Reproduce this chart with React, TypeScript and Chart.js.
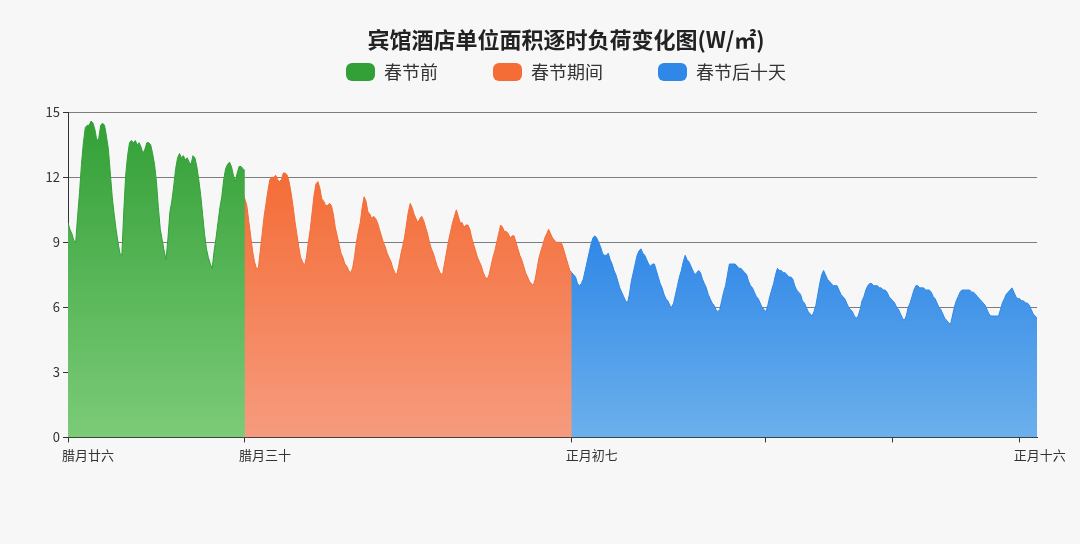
import { useEffect, useRef } from 'react';
import Chart from 'chart.js/auto';

// 逐时负荷 (W/㎡), one value per hour
const SERIES_NAMES = ['春节前', '春节期间', '春节后十天'];

const PRE_START = 0;
const PRE_LOAD = [
  9.9, 9.6, 9.4, 9.1, 9.0, 10.2, 11.3, 12.6, 13.6, 14.3, 14.4, 14.4, 14.6, 14.5, 14.2, 13.7, 13.8, 14.4, 14.5, 14.4, 13.9, 13.3, 12.2, 11.1,
  10.3, 9.6, 9.0, 8.5, 8.4, 10.4, 12.1, 13.0, 13.6, 13.7, 13.6, 13.7, 13.5, 13.6, 13.4, 13.1, 13.3, 13.6, 13.6, 13.5, 13.1, 12.6, 11.8, 10.6,
  9.6, 9.1, 8.6, 8.2, 9.2, 10.4, 10.9, 11.6, 12.4, 12.9, 13.1, 12.9, 13.0, 12.8, 12.9, 12.7, 12.6, 13.0, 12.9, 12.5, 11.9, 11.2, 10.3, 9.4,
  8.7, 8.3, 8.0, 7.8, 8.6, 9.2, 9.9, 10.6, 11.1, 11.9, 12.4, 12.6, 12.7, 12.5, 12.1, 11.8, 12.2, 12.5, 12.5, 12.4, 12.3,
];

// starts one hour under the end of the previous series so the two areas meet without a seam
const DURING_START = 91;
const DURING_LOAD = [
  11.3,
  11.0, 10.7, 10.0, 9.3, 8.6, 8.1, 7.8, 7.8, 8.6, 9.4, 10.2, 10.8, 11.4, 11.9, 12.0, 12.0, 12.1, 11.9, 11.8, 11.9, 12.2, 12.2, 12.1, 11.8,
  11.3, 10.7, 10.0, 9.4, 8.8, 8.3, 8.1, 7.9, 8.3, 9.0, 9.6, 10.4, 11.2, 11.7, 11.8, 11.5, 11.0, 10.9, 10.7, 10.7, 10.8, 10.7, 10.3, 9.7,
  9.3, 8.9, 8.5, 8.3, 8.0, 7.9, 7.7, 7.6, 7.8, 8.3, 9.0, 9.5, 9.9, 10.6, 11.1, 10.9, 10.4, 10.3, 10.1, 10.2, 10.1, 9.9, 9.6, 9.3,
  9.0, 8.8, 8.5, 8.3, 8.1, 7.8, 7.6, 7.5, 7.9, 8.4, 8.8, 9.2, 9.8, 10.4, 10.8, 10.6, 10.3, 10.1, 9.9, 10.1, 10.2, 10.0, 9.7, 9.4,
  9.0, 8.7, 8.5, 8.2, 7.9, 7.7, 7.5, 7.6, 8.1, 8.6, 9.1, 9.5, 9.9, 10.2, 10.5, 10.2, 9.9, 9.9, 9.7, 9.8, 9.8, 9.6, 9.2, 8.9,
  8.6, 8.3, 8.1, 7.9, 7.6, 7.4, 7.3, 7.5, 7.9, 8.3, 8.6, 9.0, 9.4, 9.8, 9.7, 9.5, 9.5, 9.4, 9.2, 9.3, 9.3, 9.0, 8.7, 8.4,
  8.2, 7.9, 7.6, 7.4, 7.2, 7.1, 7.0, 7.3, 7.8, 8.3, 8.6, 8.9, 9.2, 9.4, 9.6, 9.4, 9.2, 9.1, 9.0, 9.0, 9.0, 8.9, 8.6, 8.3,
  8.0, 7.7, 7.6,
];

const AFTER_START = 261;
const AFTER_LOAD = [
  7.7,
  7.6, 7.5, 7.4, 7.1, 7.0, 7.1, 7.3, 7.7, 8.1, 8.5, 8.9, 9.2, 9.3, 9.2, 9.0, 8.8, 8.5, 8.4, 8.4, 8.5, 8.2, 8.0, 7.7, 7.5,
  7.2, 6.9, 6.7, 6.5, 6.3, 6.2, 6.6, 7.2, 7.6, 8.0, 8.4, 8.6, 8.7, 8.5, 8.4, 8.2, 8.0, 7.9, 8.0, 8.0, 7.7, 7.4, 7.1, 6.9,
  6.6, 6.4, 6.3, 6.1, 6.0, 6.2, 6.6, 7.0, 7.4, 7.7, 8.1, 8.4, 8.2, 8.1, 7.9, 7.7, 7.5, 7.6, 7.7, 7.6, 7.3, 7.1, 6.9, 6.6,
  6.4, 6.2, 6.1, 5.9, 5.8, 5.9, 6.3, 6.7, 7.0, 7.5, 8.0, 8.0, 8.0, 8.0, 7.9, 7.8, 7.8, 7.7, 7.6, 7.5, 7.2, 7.0, 6.9, 6.7,
  6.5, 6.4, 6.2, 6.0, 5.9, 5.8, 6.1, 6.5, 6.8, 7.1, 7.5, 7.8, 7.7, 7.7, 7.6, 7.6, 7.5, 7.4, 7.4, 7.3, 7.0, 6.8, 6.7, 6.6,
  6.3, 6.2, 6.0, 5.8, 5.7, 5.6, 5.8, 6.1, 6.6, 7.1, 7.5, 7.7, 7.5, 7.3, 7.2, 7.1, 7.0, 7.0, 7.0, 6.8, 6.6, 6.5, 6.4, 6.2,
  6.0, 5.9, 5.8, 5.6, 5.5, 5.6, 5.9, 6.3, 6.5, 6.8, 7.0, 7.1, 7.1, 7.0, 7.0, 7.0, 6.9, 6.9, 6.8, 6.8, 6.7, 6.5, 6.4, 6.3,
  6.2, 6.0, 5.9, 5.7, 5.5, 5.4, 5.6, 6.0, 6.2, 6.5, 6.8, 7.0, 7.0, 6.9, 6.9, 6.9, 6.8, 6.8, 6.8, 6.7, 6.5, 6.4, 6.2, 6.0,
  5.9, 5.7, 5.5, 5.4, 5.3, 5.2, 5.6, 6.0, 6.3, 6.5, 6.7, 6.8, 6.8, 6.8, 6.8, 6.8, 6.7, 6.7, 6.6, 6.5, 6.4, 6.3, 6.2, 6.1,
  5.9, 5.7, 5.6, 5.6, 5.6, 5.6, 5.6, 5.9, 6.2, 6.4, 6.6, 6.7, 6.8, 6.9, 6.7, 6.5, 6.4, 6.4, 6.3, 6.3, 6.2, 6.2, 6.1, 5.9,
  5.7, 5.6, 5.5,
];

const X_MAX = 504;
const X_TICKS = [0, 92, 262, 363, 429, 495];
const X_LABELS = ['腊月廿六', '腊月三十', '正月初七', '', '', '正月十六'];
const Y_TICKS = [0, 3, 6, 9, 12, 15];

const BG = '#f7f7f7';
const COLORS = {
  green: '#33a037',
  greenLight: '#7ccb78',
  orange: '#f46c36',
  orangeLight: '#f69b7e',
  blue: '#2f87e7',
  blueLight: '#6cb0ec',
  text: '#333333',
  grid: '#7d7d7d',
};

Chart.defaults.font.family = "'Noto Sans CJK SC', 'Noto Sans', sans-serif";
Chart.defaults.color = COLORS.text;

function toPoints(start: number, values: number[]) {
  return values.map((y, i) => ({ x: start + i, y }));
}

// gradient from the series' own peak down to the x axis
function verticalFill(top: string, bottom: string) {
  return (ctx: any) => {
    const chart = ctx.chart;
    const area = chart.chartArea;
    const yScale = chart.scales && chart.scales.y;
    if (!area || !yScale || !ctx.dataset) return top;
    const peak = Math.max(...ctx.dataset.data.map((p: any) => p.y));
    const g = chart.ctx.createLinearGradient(0, yScale.getPixelForValue(peak), 0, area.bottom);
    g.addColorStop(0, top);
    g.addColorStop(1, bottom);
    return g;
  };
}

export default function App() {
  const ref = useRef<HTMLCanvasElement>(null);

  useEffect(() => {
    document.body.style.margin = '0';
    document.body.style.overflow = 'hidden';
    document.body.style.background = BG;
    if (!ref.current) return;
    const solid = [COLORS.green, COLORS.orange, COLORS.blue];

    const c = new Chart(ref.current, {
      type: 'line',
      data: {
        datasets: [
          {
            label: SERIES_NAMES[0], data: toPoints(PRE_START, PRE_LOAD),
            borderColor: COLORS.green, backgroundColor: verticalFill(COLORS.green, COLORS.greenLight),
          },
          {
            label: SERIES_NAMES[1], data: toPoints(DURING_START, DURING_LOAD),
            borderColor: COLORS.orange, backgroundColor: verticalFill(COLORS.orange, COLORS.orangeLight),
          },
          {
            label: SERIES_NAMES[2], data: toPoints(AFTER_START, AFTER_LOAD),
            borderColor: COLORS.blue, backgroundColor: verticalFill(COLORS.blue, COLORS.blueLight),
          },
        ].map((d) => ({ ...d, fill: 'origin', borderWidth: 1, pointRadius: 0, tension: 0 })),
      },
      options: {
        animation: false,
        responsive: true,
        maintainAspectRatio: false,
        layout: { padding: { top: 8, bottom: 76, left: 0, right: 0 } },
        scales: {
          x: {
            type: 'linear', min: 0, max: X_MAX, z: 1,
            afterBuildTicks: (s: any) => { s.ticks = X_TICKS.map((v) => ({ value: v })); },
            ticks: {
              autoSkip: false, maxRotation: 0, labelOffset: 20, padding: 5,
              font: { size: 13 }, color: COLORS.text,
              callback: (v: any) => X_LABELS[X_TICKS.indexOf(Number(v))] ?? '',
            },
            grid: { drawOnChartArea: false, drawTicks: true, tickLength: 5, color: COLORS.text },
            border: { display: true, color: COLORS.text, width: 1 },
          },
          y: {
            min: 0, max: 15, z: 1,
            afterBuildTicks: (s: any) => { s.ticks = Y_TICKS.map((v) => ({ value: v })); },
            afterFit: (s: any) => { s.width = 68; },
            ticks: { padding: 3, font: { size: 13 }, color: COLORS.text },
            grid: { color: COLORS.grid, lineWidth: 1, tickLength: 5, tickColor: COLORS.text },
            border: { color: COLORS.text, width: 1 },
          },
          // empty right-hand gutter so title and legend sit where the original has them
          gutter: {
            type: 'linear', position: 'right', display: true,
            grid: { display: false }, border: { display: false }, ticks: { display: false },
            afterFit: (s: any) => { s.width = 95; },
          },
        },
        plugins: {
          legend: {
            position: 'top',
            labels: {
              boxWidth: 29, boxHeight: 18, padding: 55,
              useBorderRadius: true, borderRadius: 6,
              color: COLORS.text, font: { size: 18 },
              generateLabels: (chart: any) =>
                Chart.defaults.plugins.legend.labels.generateLabels(chart).map((item: any, i: number) => ({
                  ...item, fillStyle: solid[i], strokeStyle: solid[i], lineWidth: 0,
                })),
            },
          },
          title: {
            display: true,
            text: '宾馆酒店单位面积逐时负荷变化图(W/㎡)',
            weight: 500,
            color: '#222222',
            font: { size: 22, weight: 'bold' },
            padding: { top: -64.2, bottom: 59.1 },
          },
          tooltip: { enabled: false },
        },
      } as any,
    });
    return () => c.destroy();
  }, []);

  return (
    <div style={{ position: 'relative', width: 1132, height: 544, background: BG }}>
      <canvas ref={ref} />
    </div>
  );
}
